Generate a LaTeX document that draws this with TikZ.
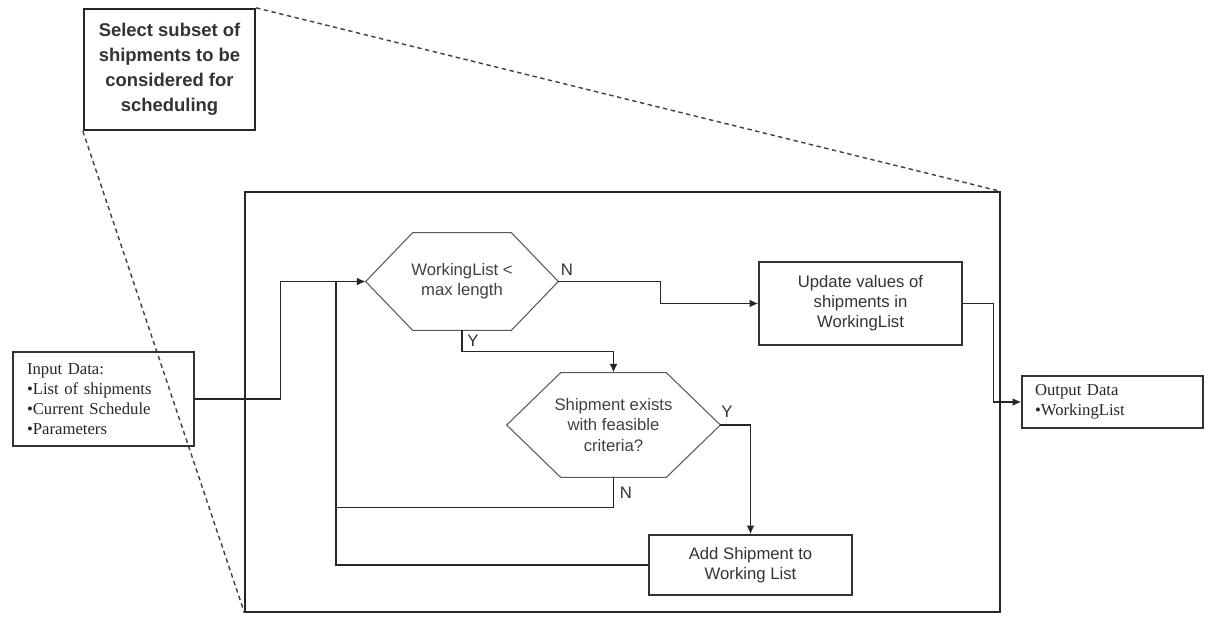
\documentclass[tikz,border=0pt]{standalone}
\usepackage{fontspec}
\setmainfont{Liberation Serif}
\setsansfont{Liberation Sans}
\usetikzlibrary{positioning,arrows.meta}
\tikzset{
    box/.style={draw=black!80, line width=0.8pt, text=black!80, align=center, inner sep=0pt,
        font=\sffamily\fontsize{9.5}{11.4}\selectfont},
    databox/.style={draw=black!80, line width=0.8pt, text=black!85, align=left, inner sep=0pt,
        font=\rmfamily\fontsize{9.5}{11.4}\selectfont},
    hexnode/.style={align=center, inner sep=0pt, text=black!75,
        font=\sffamily\fontsize{9.5}{11.4}\selectfont},
    hexline/.style={draw=black!65, line width=0.6pt},
    link/.style={draw=black!85, line width=0.9pt},
    zoomline/.style={draw=black!75, line width=0.8pt, dash pattern=on 2.5pt off 2pt},
    lbl/.style={text=black!80, font=\sffamily\fontsize{9.5}{11}\selectfont},
}

\begin{document}
\begin{tikzpicture}[x=0.02cm, y=-0.02cm, >={Latex[length=5pt,width=4.5pt]}]
            \useasboundingbox (0,0) rectangle (1210,616);
            % enlarged step and frame
            \node[draw=black!85, line width=1.3pt, minimum width=3.42cm, minimum height=2.42cm, inner sep=0pt, align=center,
                font=\sffamily\bfseries\fontsize{10.5}{14.2}\selectfont, text=black!80] (sel) at (169.5,69.5)
                {Select subset of\\shipments to be\\considered for\\scheduling};
            \node[draw=black!85, line width=0.8pt, minimum width=15.1cm, minimum height=8.4cm, inner sep=0pt] (frame) at (622.5,402) {};
            \draw[zoomline] (sel.north east)--(frame.north east);
            \draw[zoomline] (sel.south west)--(frame.south west);

            % data boxes
            \node[databox, minimum width=3.62cm, minimum height=1.88cm, text width=3.06cm] (in) at (103.5,399)
                {Input Data:\\\textbullet List of shipments\\\textbullet Current Schedule\\\textbullet Parameters};
            \node[databox, minimum width=3.62cm, minimum height=1.04cm, text width=3.1cm] (out) at (1112.5,402)
                {Output Data\\\textbullet WorkingList};

            % decisions
            \node[hexnode, minimum width=3.84cm, minimum height=1.94cm] (d1) at (462,281.5) {WorkingList <\\max length};
            \draw[hexline] (d1.west)--([xshift=0.94cm]d1.north west)--([xshift=-0.94cm]d1.north east)
                --(d1.east)--([xshift=-0.94cm]d1.south east)--([xshift=0.94cm]d1.south west)--cycle;
            \node[hexnode, minimum width=4.26cm, minimum height=2.08cm] (d2) at (613.5,425) {Shipment exists\\with feasible\\criteria?};
            \draw[hexline] (d2.west)--([xshift=1.08cm]d2.north west)--([xshift=-1.08cm]d2.north east)
                --(d2.east)--([xshift=-1.08cm]d2.south east)--([xshift=1.08cm]d2.south west)--cycle;

            % steps
            \node[box, minimum width=4.06cm, minimum height=1.66cm] (upd) at (860.5,303.5) {Update values of\\shipments in\\WorkingList};
            \node[box, minimum width=4.06cm, minimum height=1.2cm] (add) at (750.5,565) {Add Shipment to\\Working List};

            % connectors
            \coordinate (join) at (336,282);
            \draw[link,->] (in.east)--++(86,0) |- (d1.west);
            \draw[link] (add.west) -| (join);
            \draw[link] (d2.south)--++(0,30) -| (join);
            \draw[link,->] (d1.south)--++(0,21) -| (d2.north);
            \draw[link,->] (d2.east) -| (add.north);
            \draw[link,->] (d1.east)--++(102,0) |- (upd.west);
            \draw[link,->] (upd.east)--++(31,0) |- (out.west);

            \node[lbl] (n1) at (567,270) {N};
            \node[lbl] (y1) at (473,341) {Y};
            \node[lbl] (y2) at (727,412) {Y};
            \node[lbl] (n2) at (626,493) {N};
        \end{tikzpicture}
\end{document}
